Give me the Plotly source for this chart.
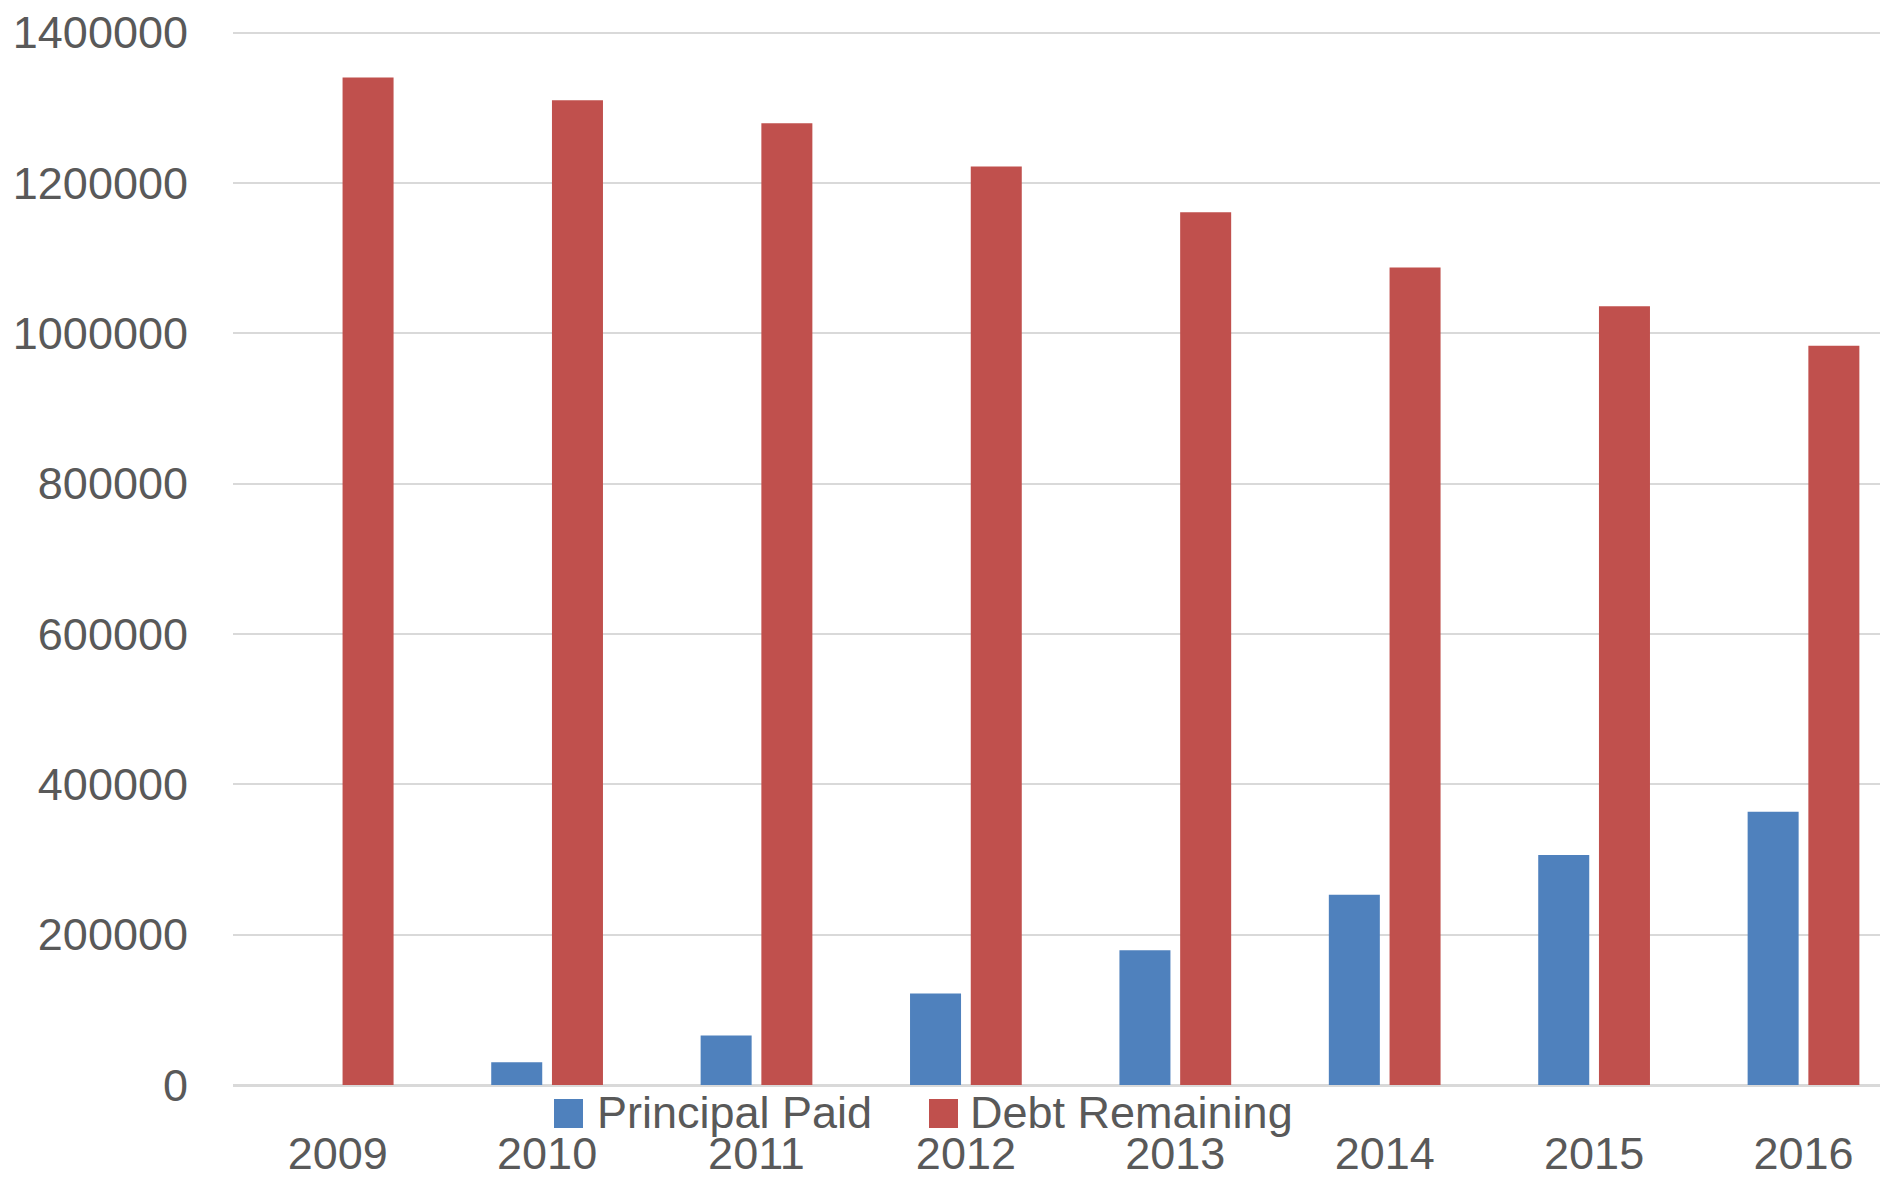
import plotly.graph_objects as go

years = ["2009", "2010", "2011", "2012", "2013", "2014", "2015", "2016"]
principal_paid = [0, 30400, 65700, 121700, 179300, 253000, 305800, 363500]
debt_remaining = [1340300, 1309800, 1279400, 1221800, 1160900, 1087300, 1036000, 983200]
series_names = ["Principal Paid", "Debt Remaining"]
y_ticks = [0, 200000, 400000, 600000, 800000, 1000000, 1200000, 1400000]

W, H = 1888, 1180
OFF = 8  # page body margin offset of the plot div
# target positions on screen
PLOT_LEFT, ZERO_PX, TOP_GRID_PX = 233, 1085, 32.5
ML, MR, MT = PLOT_LEFT - OFF, 0, 22
MB = H - (ZERO_PX - OFF)
PW, PH = W - ML - MR, H - MT - MB
Y_MAX = 1400000 * (ZERO_PX - OFF - MT) / (ZERO_PX - TOP_GRID_PX)
CAT_W = 209.4
FONT = "Liberation Sans, Arial, sans-serif"
TXT = "#595959"
BLUE, RED = "#4F81BD", "#C0504D"

def px_x(x):
    return (x - OFF - ML) / PW

def px_y(y):
    return (H - MB - (y - OFF)) / PH

fig = go.Figure()
fig.add_trace(go.Bar(x=years, y=principal_paid, name=series_names[0],
                     marker=dict(color=BLUE, line=dict(width=0)), showlegend=False))
fig.add_trace(go.Bar(x=years, y=debt_remaining, name=series_names[1],
                     marker=dict(color=RED, line=dict(width=0)), showlegend=False))

# legend drawn manually (large swatches, overlapping axis labels like the original)
legend_items = [(series_names[0], BLUE, 554, 596), (series_names[1], RED, 929, 969)]
for name, col, sx, tx in legend_items:
    fig.add_shape(type="rect", xref="paper", yref="paper",
                  x0=px_x(sx), x1=px_x(sx + 29), y0=px_y(1128), y1=px_y(1099),
                  fillcolor=col, line=dict(width=0))
    fig.add_annotation(text=name, xref="paper", yref="paper", x=px_x(tx), y=px_y(1112),
                       xanchor="left", yanchor="middle", showarrow=False,
                       font=dict(family=FONT, size=45, color=TXT), borderpad=0)

fig.update_layout(
    width=W, height=H,
    margin=dict(l=ML, r=MR, t=MT, b=MB, pad=0),
    paper_bgcolor="white", plot_bgcolor="white",
    barmode="group", bargap=0.42, bargroupgap=0.16,
    font=dict(family=FONT, size=45, color=TXT),
    xaxis=dict(type="category", range=[-0.5, -0.5 + PW / CAT_W], automargin=False,
               showgrid=False, showline=False, ticks="", ticklabelstandoff=38,
               ticklabeloverflow="allow",
               tickfont=dict(family=FONT, size=45, color=TXT)),
    yaxis=dict(range=[0, Y_MAX], tickvals=y_ticks, ticktext=[str(v) for v in y_ticks],
               automargin=False, ticklabeloverflow="allow",
               showgrid=True, gridcolor="#D9D9D9", gridwidth=2,
               zeroline=True, zerolinecolor="#D9D9D9", zerolinewidth=3,
               showline=False, ticks="", ticklabelstandoff=44,
               tickfont=dict(family=FONT, size=45, color=TXT)),
)

fig.write_html("out.html")
